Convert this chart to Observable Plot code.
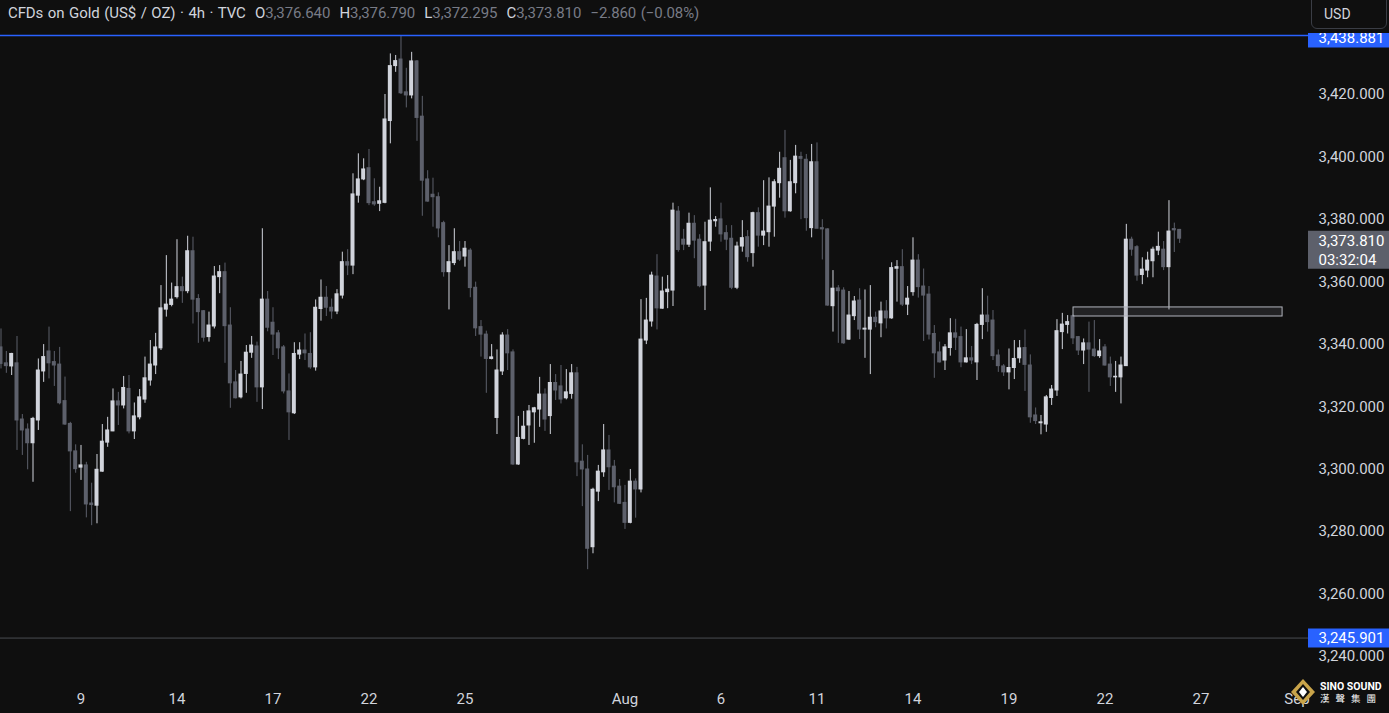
<!DOCTYPE html>
<html><head><meta charset="utf-8">
<script src="https://cdn.jsdelivr.net/npm/d3@7"></script>
<script src="https://cdn.jsdelivr.net/npm/@observablehq/plot@0.6"></script>
<style>
html,body{margin:0;padding:0;background:#0f0f0f;overflow:hidden}
#wrap{position:relative;width:1389px;height:713px;font-family:Roboto,"Noto Sans",sans-serif}
#hdr{position:absolute;left:8px;top:4px;font-size:15px;letter-spacing:-0.1px;word-spacing:1px;line-height:18px;color:#d1d4dc;white-space:pre}
#hdr .v{color:#787b86}
#mask{position:absolute;left:1308px;top:0;width:81px;height:33px;background:#0f0f0f}
#usd{position:absolute;left:1311px;top:-6px;width:76px;height:35px;border:1px solid #3a3d45;border-radius:6px;background:#0f0f0f;color:#d1d4dc;font-size:14px;box-sizing:border-box;padding:11px 0 0 12px}
#logo{position:absolute;left:1290px;top:677px;width:99px;height:32px}
</style></head><body>
<div id="wrap">
<div id="chart"></div>
<div id="hdr">CFDs on Gold (US$ / OZ) · 4h · TVC  O<span class="v">3,376.640</span>  H<span class="v">3,376.790</span>  L<span class="v">3,372.295</span>  C<span class="v">3,373.810</span>  <span class="v">−2.860 (−0.08%)</span></div>
<div id="mask"></div>
<div id="usd">USD</div>
<svg id="logo" viewBox="0 0 99 32">
  <polygon points="13,2 25,15 13,28 1,15" fill="#c9a44a"/>
  <polygon points="13,7 20,15 13,23 6,15" fill="#0f0f0f"/>
  <polygon points="13,10 17,15 13,20 9,15" fill="#ffffff"/>
  <text x="30" y="13" fill="#ffffff" font-size="10.5" font-weight="bold" font-family="Roboto, sans-serif">SINO SOUND</text>
  <text x="30" y="25" fill="#ffffff" font-size="9.5" font-family="'Noto Sans CJK TC', sans-serif" letter-spacing="6">漢聲集團</text>
</svg>
</div>
<script>
// ---- data ----
const open = [3339.0,3333.9,3332.9,3333.9,3315.9,3312.7,3308.3,3315.6,3331.3,3337.7,
3334.3,3333.5,3321.8,3314.5,3305.7,3300.5,3301.2,3289.0,3288.3,3299.2,
3308.5,3312.1,3321.7,3320.4,3325.7,3312.1,3316.6,3322.3,3328.4,3333.2,
3338.7,3351.1,3352.6,3355.1,3358.3,3357.0,3369.8,3354.5,3350.6,3342.3,
3345.7,3361.5,3363.1,3346.0,3327.8,3323.0,3330.5,3337.3,3339.3,3326.2,
3354.3,3346.9,3343.5,3339.0,3324.9,3317.9,3336.7,3338.0,3336.9,3332.6,
3351.3,3354.9,3351.7,3350.5,3355.6,3366.3,3365.2,3387.6,3392.8,3396.4,
3385.5,3385.0,3385.3,3411.5,3429.1,3431.2,3420.7,3419.7,3430.6,3412.9,
3392.8,3387.9,3387.1,3378.8,3363.1,3366.0,3369.5,3368.1,3370.0,3358.1,
3345.5,3343.1,3335.3,3316.4,3331.3,3342.8,3337.4,3301.5,3309.7,3314.0,
3318.2,3319.1,3323.9,3317.0,3327.6,3326.5,3322.7,3324.1,3330.7,3302.4,
3299.9,3275.0,3292.8,3299.0,3306.0,3300.8,3294.4,3289.2,3282.8,3296.0,
3293.5,3341.2,3347.3,3361.7,3351.4,3356.7,3357.2,3382.5,3373.5,3371.9,
3378.6,3373.5,3358.8,3372.9,3379.4,3380.0,3375.6,3373.8,3358.1,3371.3,
3374.3,3369.2,3382.0,3374.8,3375.9,3384.1,3391.6,3399.6,3382.6,3391.6,
3400.0,3399.1,3377.2,3398.3,3377.2,3376.8,3352.2,3357.9,3357.2,3341.5,
3349.0,3354.0,3344.7,3344.7,3348.5,3346.7,3350.5,3348.3,3364.2,3364.7,
3352.7,3356.7,3366.8,3358.5,3355.9,3343.3,3337.4,3334.8,3338.8,3343.5,
3342.3,3334.2,3335.5,3334.2,3346.2,3349.2,3347.6,3336.4,3332.9,3331.0,
3332.4,3335.5,3338.8,3333.2,3317.2,3314.7,3314.3,3322.8,3325.2,3343.9,
3346.2,3349.0,3342.3,3338.0,3340.3,3338.3,3336.2,3339.0,3333.5,3329.4,
3329.4,3333.0,3373.5,3371.1,3362.2,3363.6,3366.6,3370.0,3370.3,3364.7,
3376.9,3376.64];
const high = [3344.9,3337.7,3337.1,3342.5,3317.5,3314.5,3316.6,3335.3,3339.9,3345.5,
3337.7,3339.0,3329.5,3315.0,3307.8,3307.6,3302.2,3295.5,3304.7,3314.3,
3316.6,3325.7,3324.6,3329.7,3330.0,3321.2,3325.5,3335.9,3341.2,3343.5,
3358.8,3368.4,3359.6,3373.5,3361.5,3374.6,3374.3,3355.9,3350.8,3350.3,
3364.9,3365.2,3366.0,3351.7,3331.6,3334.5,3339.6,3342.5,3340.7,3377.0,
3356.9,3351.7,3344.4,3339.6,3330.5,3340.5,3340.5,3343.3,3343.7,3354.2,
3360.6,3358.5,3354.5,3357.5,3369.5,3370.3,3394.6,3401.0,3399.4,3402.4,
3393.0,3390.3,3420.0,3433.0,3432.5,3438.881,3428.4,3433.5,3430.9,3419.4,
3395.6,3393.2,3388.5,3379.4,3371.6,3377.0,3372.9,3372.9,3370.6,3359.9,
3347.6,3344.2,3339.9,3338.2,3343.7,3344.7,3338.2,3316.9,3318.5,3320.4,
3319.8,3329.4,3325.7,3333.5,3330.3,3333.2,3331.9,3333.5,3332.6,3307.8,
3304.4,3293.9,3301.2,3314.3,3310.8,3302.8,3296.7,3294.8,3299.9,3296.9,
3354.3,3354.7,3363.1,3368.7,3361.5,3362.0,3385.2,3384.1,3376.8,3382.0,
3381.2,3375.1,3379.1,3390.1,3380.9,3385.2,3378.0,3378.0,3372.7,3379.6,
3376.4,3382.3,3383.7,3392.4,3393.3,3392.7,3401.5,3408.5,3398.9,3403.7,
3401.5,3400.8,3404.0,3404.5,3379.9,3377.0,3363.6,3358.8,3358.1,3356.9,
3355.3,3357.8,3357.4,3358.8,3350.3,3353.5,3354.0,3366.1,3366.8,3370.3,
3358.5,3374.1,3368.7,3364.1,3358.5,3346.0,3340.7,3339.9,3348.2,3348.0,
3345.5,3344.7,3339.3,3346.7,3357.8,3355.4,3350.8,3338.2,3333.5,3338.5,
3341.2,3341.2,3344.6,3336.6,3319.6,3317.2,3323.6,3326.8,3347.9,3349.9,
3349.2,3349.4,3342.5,3341.7,3347.1,3347.6,3341.5,3339.9,3335.9,3334.5,
3335.9,3378.4,3374.3,3371.6,3367.7,3369.5,3371.1,3375.9,3372.9,3386.0,
3378.8,3376.79];
const low = [3332.1,3330.7,3330.0,3306.0,3304.4,3299.8,3295.8,3312.4,3327.8,3328.9,
3326.5,3320.6,3314.0,3286.4,3298.7,3296.4,3284.4,3281.9,3282.5,3299.0,
3307.0,3312.0,3314.0,3319.3,3311.3,3309.5,3315.8,3321.1,3326.6,3330.3,
3338.0,3348.7,3352.0,3354.5,3353.1,3356.2,3346.5,3340.3,3340.7,3340.7,
3344.9,3356.2,3333.9,3319.5,3322.5,3322.5,3324.3,3335.5,3321.4,3319.1,
3344.0,3336.4,3335.1,3324.1,3309.2,3317.5,3335.1,3334.8,3332.0,3331.4,
3347.4,3348.9,3348.0,3349.5,3354.5,3362.0,3362.3,3385.2,3392.4,3384.4,
3384.2,3382.5,3385.0,3404.2,3427.1,3420.0,3415.7,3418.6,3405.0,3381.0,
3385.5,3377.5,3374.1,3361.5,3351.0,3365.2,3366.5,3364.7,3354.9,3342.5,
3335.9,3324.3,3335.0,3311.1,3330.0,3331.6,3301.2,3301.2,3309.4,3307.6,
3308.3,3313.4,3312.1,3311.1,3322.0,3320.9,3322.2,3322.4,3297.6,3288.0,
3267.8,3272.9,3289.6,3297.4,3293.2,3289.2,3288.7,3280.7,3282.5,3284.3,
3292.4,3339.9,3345.5,3344.6,3351.2,3351.4,3352.1,3369.5,3370.0,3371.0,
3367.4,3358.1,3350.8,3369.7,3377.5,3372.7,3370.0,3357.5,3357.5,3369.5,
3366.3,3364.7,3371.1,3371.6,3371.1,3374.3,3386.8,3380.4,3382.3,3388.2,
3379.9,3376.2,3374.1,3377.0,3367.0,3352.2,3343.9,3340.3,3340.0,3341.2,
3347.6,3341.5,3335.5,3330.3,3345.3,3342.1,3344.9,3348.0,3353.5,3352.1,
3349.2,3355.4,3354.8,3340.9,3341.4,3329.1,3334.0,3331.6,3336.2,3338.0,
3332.5,3334.0,3333.5,3328.4,3341.5,3343.9,3334.8,3331.0,3329.7,3325.4,
3328.7,3333.9,3324.9,3314.7,3314.3,3311.0,3311.8,3320.4,3323.3,3338.3,
3343.3,3339.9,3336.4,3333.5,3324.6,3335.8,3335.5,3333.0,3326.5,3324.6,
3320.9,3333.0,3368.2,3360.2,3359.1,3361.3,3361.3,3368.4,3363.6,3351.0,
3369.4,3372.295];
const close = [3333.7,3333.0,3336.9,3315.6,3312.4,3308.3,3316.1,3331.6,3335.9,3333.9,
3333.2,3321.1,3314.3,3305.7,3300.0,3301.2,3288.7,3288.5,3299.8,3308.8,
3312.4,3321.7,3320.4,3326.0,3312.1,3316.9,3323.0,3329.1,3333.5,3339.0,
3351.5,3352.7,3354.3,3358.3,3357.0,3369.8,3354.3,3350.3,3342.1,3346.0,
3361.7,3363.1,3345.8,3327.5,3322.7,3330.3,3337.3,3339.6,3326.2,3354.3,
3345.3,3343.1,3338.7,3324.9,3318.2,3336.9,3338.0,3337.1,3332.6,3351.7,
3354.9,3351.7,3350.5,3356.0,3366.3,3365.2,3388.0,3392.8,3396.0,3385.2,
3384.8,3385.8,3412.0,3429.1,3430.7,3420.4,3419.7,3430.6,3412.5,3392.4,
3385.7,3387.1,3377.1,3363.1,3366.3,3369.5,3367.1,3370.6,3358.0,3345.1,
3343.1,3335.3,3335.8,3331.6,3342.8,3337.1,3301.5,3310.0,3313.6,3318.5,
3319.5,3323.9,3315.9,3327.6,3325.2,3322.3,3324.6,3330.7,3302.2,3299.9,
3274.5,3293.4,3299.2,3306.0,3300.6,3294.2,3288.9,3282.8,3296.0,3293.5,
3341.5,3347.6,3362.0,3351.5,3356.9,3357.5,3382.8,3370.2,3371.9,3378.6,
3373.2,3358.6,3372.7,3379.6,3379.8,3375.2,3373.5,3358.1,3371.3,3374.0,
3367.9,3382.0,3374.8,3376.1,3384.1,3391.9,3396.2,3382.6,3391.9,3400.1,
3399.4,3380.4,3398.3,3377.0,3376.8,3352.4,3357.8,3357.0,3340.3,3349.2,
3353.7,3344.7,3345.0,3348.5,3347.1,3350.5,3348.3,3364.4,3364.7,3352.7,
3354.6,3366.8,3358.3,3355.6,3343.1,3337.1,3334.2,3339.0,3343.5,3342.1,
3334.2,3335.5,3334.8,3346.2,3349.2,3347.1,3336.2,3333.0,3331.0,3332.4,
3335.3,3338.7,3333.4,3316.6,3315.4,3315.0,3323.0,3325.5,3344.2,3346.3,
3347.1,3341.9,3338.0,3340.3,3338.3,3336.2,3337.7,3333.2,3329.4,3329.6,
3333.2,3373.5,3370.3,3362.0,3363.9,3366.8,3370.3,3371.2,3364.7,3376.1,
3376.5,3373.81];

// time axis: bar index of each labelled day, and its label
const dayIdx    = [15, 33, 51, 69, 87, 117, 135, 153, 171, 189, 207, 225, 243];
const dayLabels = ["9","14","17","22","25","Aug","6","11","14","19","22","27","Sep"];
// price axis
const yTicks = [3240,3260,3280,3300,3320,3340,3360,3380,3400,3420];
// reference lines and annotation zone
const highLine = 3438.881;
const lowLine = 3245.901;
const lastPrice = 3373.810;
const countdown = "03:32:04";
const zoneStart = [201.1], zoneEnd = [240.3], zoneTop = [3351.8], zoneBottom = [3348.9];

// ---- chart ----
const bull = "#d1d4dc", bear = "#5d606b";
const candles = close.map((c, i) => ({i, o: open[i], h: high[i], l: low[i], c}));
const col = d => d.c >= d.o ? bull : bear;
const xLo = -0.094, xHi = 245.16, xAxisEnd = 260.4;
const fmt = d3.format(",.3f");
const lbl = new Map(dayIdx.map((d, k) => [d, dayLabels[k]]));
const zone = zoneStart.map((s, k) => ({s, e: zoneEnd[k], t: zoneTop[k], b: zoneBottom[k]}));

const chart = Plot.plot({
  width: 1389, height: 713,
  marginLeft: 0, marginRight: 81, marginTop: 0, marginBottom: 28,
  style: {background: "#0f0f0f", color: "#d1d4dc", fontFamily: "Roboto, sans-serif", fontSize: "15px"},
  x: {domain: [xLo, xHi], ticks: dayIdx, tickFormat: d => lbl.get(d), tickSize: 0, tickPadding: 8, label: null},
  y: {domain: [3230.71, 3450.11], ticks: yTicks, tickFormat: fmt, tickSize: 0, tickPadding: 10, label: null, axis: "right"},
  marks: [
    Plot.ruleY([lowLine], {x1: xLo, x2: xHi, stroke: "#4a4c52"}),
    Plot.ruleX(candles, {x: "i", y1: "l", y2: "h", stroke: col}),
    Plot.rect(candles, {x1: d => d.i - 0.375, x2: d => d.i + 0.375,
      y1: d => Math.min(d.o, d.c), y2: d => Math.max(d.o, d.c), fill: col, insetTop: -0.5, insetBottom: -0.5}),
    Plot.rect(zone, {x1: "s", x2: "e", y1: "b", y2: "t", fill: "#787b86", fillOpacity: 0.18, stroke: "#b2b5be", strokeWidth: 1}),
    Plot.ruleY([highLine], {x1: xLo, x2: xHi, stroke: "#2962ff", strokeWidth: 1.4}),
    // price-axis labels
    Plot.ruleY([highLine], {x1: xHi, x2: xAxisEnd, stroke: "#2962ff", strokeWidth: 20, dy: 2}),
    Plot.text([highLine], {x: xHi, y: d => d, text: d => fmt(d), dx: 10, dy: 3, textAnchor: "start", fill: "#ffffff"}),
    Plot.ruleY([lowLine], {x1: xHi, x2: xAxisEnd, stroke: "#2962ff", strokeWidth: 19}),
    Plot.text([lowLine], {x: xHi, y: d => d, text: d => fmt(d), dx: 10, textAnchor: "start", fill: "#ffffff"}),
    Plot.ruleY([lastPrice], {x1: xHi, x2: xAxisEnd, stroke: bear, strokeWidth: 38, dy: 11}),
    Plot.text([lastPrice], {x: xHi, y: d => d, text: d => fmt(d), dx: 10, dy: 2, textAnchor: "start", fill: "#ffffff"}),
    Plot.text([lastPrice], {x: xHi, y: d => d, text: () => countdown, dx: 10, dy: 21, textAnchor: "start", fill: "#ffffff"})
  ]
});
document.getElementById("chart").appendChild(chart);
</script>
</body></html>
